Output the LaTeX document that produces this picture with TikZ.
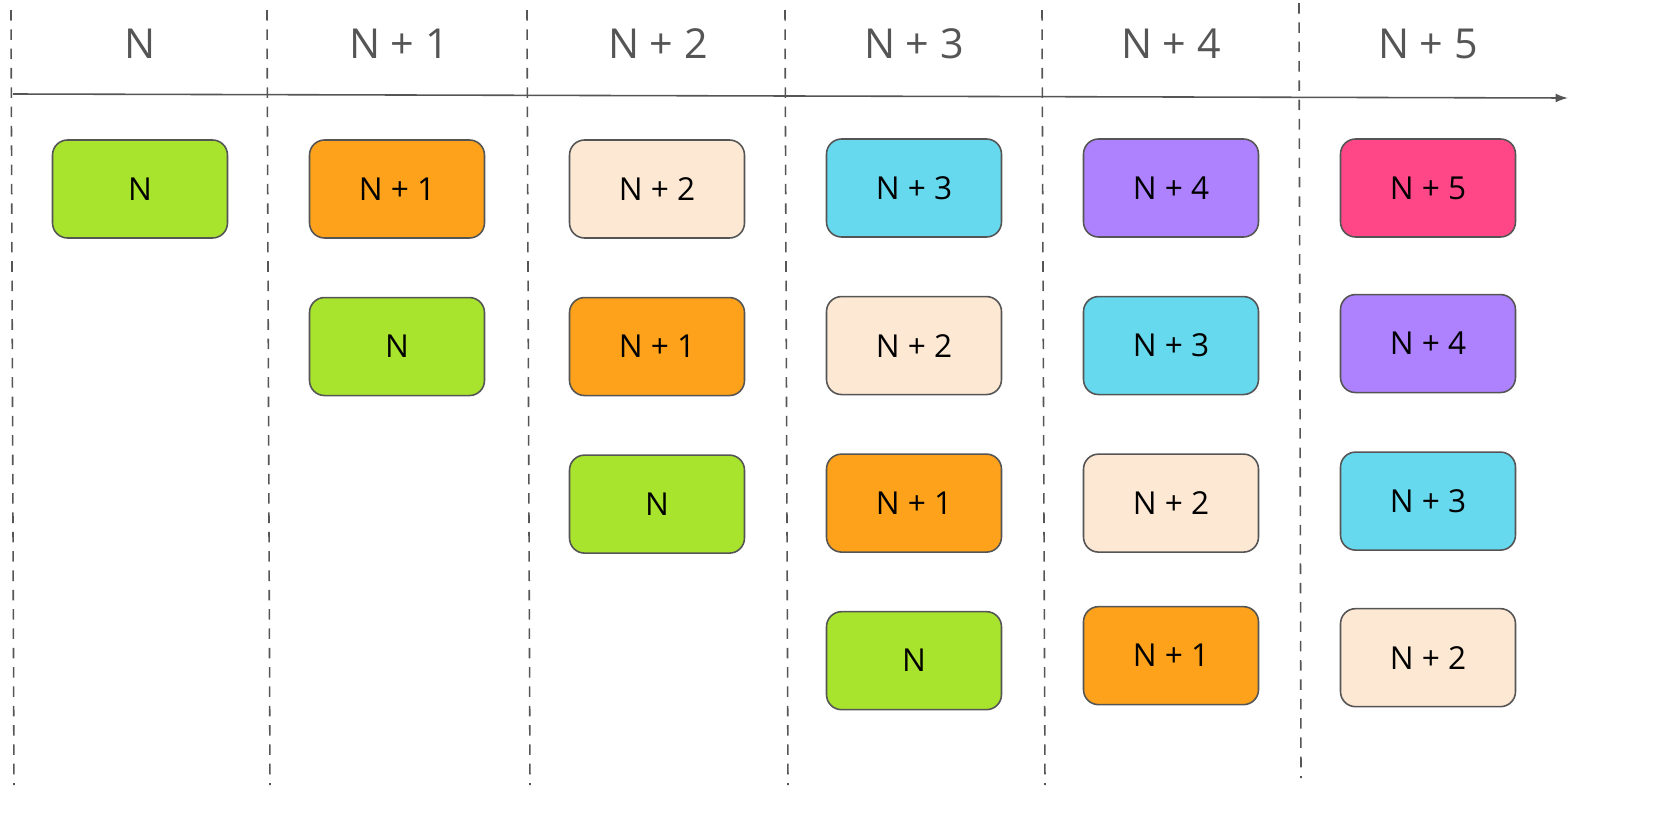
\documentclass[tikz,border=0pt]{standalone}
\usepackage{fontspec}
\setmainfont{Open Sans}
\usetikzlibrary{positioning, arrows.meta}

\definecolor{stepgreen}{HTML}{A8E32E}
\definecolor{steporange}{HTML}{FDA21A}
\definecolor{steppeach}{HTML}{FDE8D3}
\definecolor{stepcyan}{HTML}{66D9EE}
\definecolor{steppurple}{HTML}{AE82FF}
\definecolor{steppink}{HTML}{FF4787}
\definecolor{linegray}{HTML}{555555}

\begin{document}
\begin{tikzpicture}[
        x=0.02cm, y=-0.02cm,
        node distance=1.16cm,
        frame/.style={rectangle, rounded corners=0.3cm, draw=linegray, line width=0.9pt,
            minimum width=3.5cm, minimum height=1.96cm, font=\fontsize{18}{20}\selectfont},
        head/.style={text=linegray, font=\fontsize{23.5}{26}\selectfont},
        divider/.style={draw=linegray, dashed, dash pattern=on 6pt off 5pt, line width=0.9pt},
        arrow/.style={draw=linegray, line width=0.9pt, -{Latex[length=7pt, width=5pt]}}
    ]
        \useasboundingbox (0,0) rectangle (1658,832);

        % column dividers
        \coordinate (d0t) at (11,10);    \coordinate (d0b) at (14,785);
        \coordinate (d1t) at (267,10);   \coordinate (d1b) at (270,785);
        \coordinate (d2t) at (527,10);   \coordinate (d2b) at (530,785);
        \coordinate (d3t) at (785,10);   \coordinate (d3b) at (788,785);
        \coordinate (d4t) at (1042,10);  \coordinate (d4b) at (1045,785);
        \coordinate (d5t) at (1299,3);   \coordinate (d5b) at (1301,778);
        \foreach \i in {0,...,5}
            \draw[divider] (d\i t) -- (d\i b);

        % time axis
        \coordinate (axstart) at (13,94);
        \coordinate (axend) at (1568,98);
        \draw[arrow] (axstart) -- (axend);

        % headers
        \node[head] (h0) at (140,44) {N};
        \node[head] (h1) at (399,44) {N + 1};
        \node[head] (h2) at (658,44) {N + 2};
        \node[head] (h3) at (914,44) {N + 3};
        \node[head] (h4) at (1171,44) {N + 4};
        \node[head] (h5) at (1428,44) {N + 5};

        % column N
        \node[frame, fill=stepgreen] (c0a) at (140,189) {N};

        % column N + 1
        \node[frame, fill=steporange] (c1a) at (397,189) {N + 1};
        \node[frame, fill=stepgreen, below=of c1a] (c1b) {N};

        % column N + 2
        \node[frame, fill=steppeach] (c2a) at (657,189) {N + 2};
        \node[frame, fill=steporange, below=of c2a] (c2b) {N + 1};
        \node[frame, fill=stepgreen, below=of c2b] (c2c) {N};

        % column N + 3
        \node[frame, fill=stepcyan] (c3a) at (914,188) {N + 3};
        \node[frame, fill=steppeach, below=of c3a] (c3b) {N + 2};
        \node[frame, fill=steporange, below=of c3b] (c3c) {N + 1};
        \node[frame, fill=stepgreen, below=of c3c] (c3d) {N};

        % column N + 4
        \node[frame, fill=steppurple] (c4a) at (1171,188) {N + 4};
        \node[frame, fill=stepcyan, below=of c4a] (c4b) {N + 3};
        \node[frame, fill=steppeach, below=of c4b] (c4c) {N + 2};
        \node[frame, fill=steporange, below=1.06cm of c4c] (c4d) {N + 1};

        % column N + 5
        \node[frame, fill=steppink] (c5a) at (1428,188) {N + 5};
        \node[frame, fill=steppurple, below=1.12cm of c5a] (c5b) {N + 4};
        \node[frame, fill=stepcyan, below=of c5b] (c5c) {N + 3};
        \node[frame, fill=steppeach, below=1.14cm of c5c] (c5d) {N + 2};
    \end{tikzpicture}
\end{document}
